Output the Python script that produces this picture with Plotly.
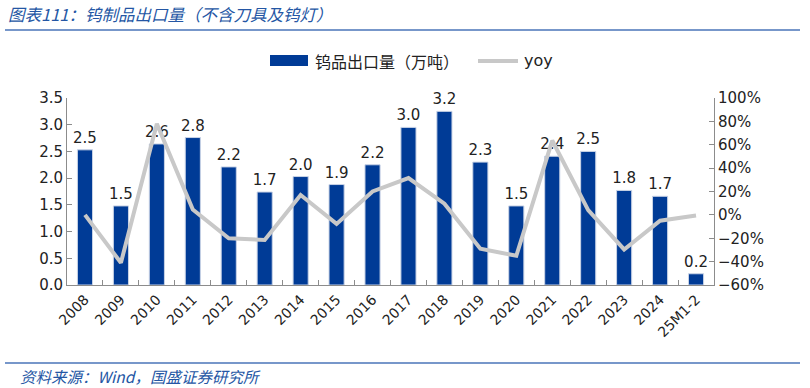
import plotly.graph_objects as go

categories = ["2008", "2009", "2010", "2011", "2012", "2013", "2014", "2015", "2016",
              "2017", "2018", "2019", "2020", "2021", "2022", "2023", "2024", "25M1-2"]
export_volume = [2.53, 1.48, 2.64, 2.76, 2.21, 1.74, 2.03, 1.88, 2.25,
                 2.95, 3.25, 2.30, 1.48, 2.41, 2.50, 1.77, 1.66, 0.21]
yoy = [0.0, -0.41, 0.78, 0.045, -0.20, -0.215, 0.17, -0.077, 0.20,
       0.315, 0.096, -0.29, -0.35, 0.636, 0.04, -0.296, -0.05, -0.006]

label_font = "DejaVu Sans, Verdana, sans-serif"
cjk_font = "Noto Sans CJK SC, sans-serif"
axis_col = "#8c8c8c"
bar_col = "#003b96"
line_col = "#c8c8c8"

L, R, T, B = 67, 714, 98, 285
PW, PH = R - L, B - T


def px(x):
    return (x - L) / PW


def py(y):
    return (B - y) / PH


fig = go.Figure()
fig.add_trace(go.Bar(
    x=categories, y=export_volume, name="钨品出口量（万吨）",
    marker=dict(color=bar_col, line=dict(color="#c9d3e6", width=1)),
    text=[f"{v:.1f}" for v in export_volume], textposition="outside",
    constraintext="none",
    textfont=dict(family=label_font, size=15, color="#222"),
    cliponaxis=False, yaxis="y", showlegend=False, hoverinfo="skip",
))
fig.add_trace(go.Scatter(
    x=categories, y=yoy, name="yoy", mode="lines",
    line=dict(color=line_col, width=4), yaxis="y2", showlegend=False, hoverinfo="skip",
))

fig.update_layout(
    width=810, height=388,
    margin=dict(l=L, r=810 - R, t=T, b=388 - B, autoexpand=False),
    paper_bgcolor="white", plot_bgcolor="white",
    bargap=0.58,
    showlegend=False,
    xaxis=dict(type="category", showline=True, linecolor=axis_col, linewidth=1,
               ticks="inside", tickson="boundaries", ticklen=5, tickcolor=axis_col,
               tickangle=-45, tickfont=dict(family=label_font, size=14, color="#222"),
               showgrid=False),
    yaxis=dict(range=[0, 3.5], dtick=0.5, tickformat=".1f", showline=True,
               linecolor=axis_col, ticks="inside", ticklen=5, tickcolor=axis_col,
               showgrid=False, zeroline=False,
               tickfont=dict(family=label_font, size=15, color="#222")),
    yaxis2=dict(range=[-0.6, 1.0], dtick=0.2, tickformat=".0%", overlaying="y",
                side="right", showline=True, linecolor=axis_col, ticks="inside",
                ticklen=5, tickcolor=axis_col, showgrid=False, zeroline=False,
                tickfont=dict(family=label_font, size=15, color="#222")),
    annotations=[
        dict(text="<i>图表111：钨制品出口量（不含刀具及钨灯）</i>", xref="paper", yref="paper",
             x=px(6), y=py(14), xanchor="left", yanchor="middle",
             showarrow=False, font=dict(family=cjk_font, size=16.5, color="#2456a4")),
        dict(text="<i>资料来源：Wind，国盛证券研究所</i>", xref="paper", yref="paper",
             x=px(18), y=py(376), xanchor="left", yanchor="middle",
             showarrow=False, font=dict(family=cjk_font, size=15.5, color="#2456a4")),
        dict(text="钨品出口量（万吨）", xref="paper", yref="paper",
             x=px(313), y=py(61), xanchor="left", yanchor="middle",
             showarrow=False, font=dict(family=cjk_font, size=16, color="#222")),
        dict(text="yoy", xref="paper", yref="paper",
             x=px(522), y=py(60), xanchor="left", yanchor="middle",
             showarrow=False, font=dict(family=label_font, size=16, color="#222")),
    ],
    shapes=[
        dict(type="line", xref="paper", yref="paper", x0=px(5), x1=px(800),
             y0=py(30), y1=py(30), line=dict(color="#4a74b8", width=1.5)),
        dict(type="line", xref="paper", yref="paper", x0=px(5), x1=px(800),
             y0=py(363), y1=py(363), line=dict(color="#4a74b8", width=1.5)),
        dict(type="rect", xref="paper", yref="paper", x0=px(270), x1=px(308),
             y0=py(66), y1=py(55), fillcolor=bar_col, line=dict(width=0)),
        dict(type="line", xref="paper", yref="paper", x0=px(478), x1=px(518),
             y0=py(61), y1=py(61), line=dict(color=line_col, width=4)),
    ],
)

fig.write_html("out.html", config={"displayModeBar": False},
               post_script="document.body.style.margin='0';document.body.style.padding='0';"
                           "document.body.style.overflow='hidden';")
